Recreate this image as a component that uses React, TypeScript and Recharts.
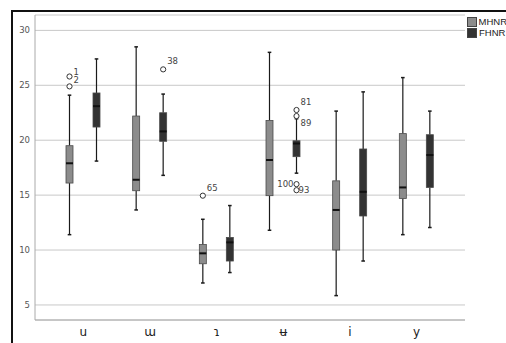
import { ComposedChart, Bar, XAxis, YAxis, CartesianGrid, Legend } from 'recharts';

const categories = ['u', 'ɯ', 'ɿ', 'ʉ', 'i', 'y'];

// MHNR (grey boxes)
const mhnrMin = [11.4, 13.65, 7.0, 11.8, 5.85, 11.4];
const mhnrQ1 = [16.1, 15.4, 8.75, 14.95, 10.0, 14.7];
const mhnrMedian = [17.9, 16.4, 9.7, 18.2, 13.65, 15.7];
const mhnrQ3 = [19.5, 22.2, 10.5, 21.8, 16.3, 20.6];
const mhnrMax = [24.1, 28.5, 12.8, 28.0, 22.65, 25.7];

// FHNR (dark boxes)
const fhnrMin = [18.1, 16.8, 7.95, 17.0, 9.0, 12.05];
const fhnrQ1 = [21.2, 19.9, 9.0, 18.5, 13.1, 15.7];
const fhnrMedian = [23.1, 20.8, 10.7, 19.7, 15.3, 18.65];
const fhnrQ3 = [24.3, 22.5, 11.15, 19.95, 19.2, 20.5];
const fhnrMax = [27.4, 24.2, 14.05, 21.95, 24.4, 22.65];

// outliers: category index, value, case label
const mhnrOutliers = [
  { cat: 0, value: 25.8, label: '1' },
  { cat: 0, value: 24.9, label: '2' },
  { cat: 2, value: 14.95, label: '65' },
];
const fhnrOutliers = [
  { cat: 1, value: 26.45, label: '38' },
  { cat: 3, value: 22.75, label: '81' },
  { cat: 3, value: 22.2, label: '89' },
  { cat: 3, value: 16.0, label: '100' },
  { cat: 3, value: 15.45, label: '93' },
];

const yTicks = [5, 10, 15, 20, 25, 30];

// where each case label sits relative to its circle
const labelPlace: Record<string, { dx: number; dy: number; anchor: string }> = {
  '1': { dx: 4, dy: -2, anchor: 'start' },
  '2': { dx: 4, dy: -3, anchor: 'start' },
  '38': { dx: 4, dy: -5, anchor: 'start' },
  '65': { dx: 4, dy: -5, anchor: 'start' },
  '81': { dx: 4, dy: -5, anchor: 'start' },
  '89': { dx: 4, dy: 10, anchor: 'start' },
  '100': { dx: -3, dy: 3, anchor: 'end' },
  '93': { dx: 2, dy: 3, anchor: 'start' },
};

const rows = categories.map((c, i) => ({
  cat: c,
  m: {
    min: mhnrMin[i], q1: mhnrQ1[i], med: mhnrMedian[i], q3: mhnrQ3[i], max: mhnrMax[i],
    out: mhnrOutliers.filter((o) => o.cat === i),
  },
  f: {
    min: fhnrMin[i], q1: fhnrQ1[i], med: fhnrMedian[i], q3: fhnrQ3[i], max: fhnrMax[i],
    out: fhnrOutliers.filter((o) => o.cat === i),
  },
}));

const FONT = '"DejaVu Sans", sans-serif';

function makeBox(key: 'm' | 'f', fill: string) {
  return (props: any) => {
    const { x, y, width, height, payload } = props;
    const s = payload[key];
    const top = Math.min(y, y + height);
    const bottom = Math.max(y, y + height);
    // whisker bar spans [min, max], so the scale is linear inside it
    const k = (bottom - top) / (s.max - s.min);
    const py = (v: number) => bottom - (v - s.min) * k;
    const cx = x + width / 2;
    return (
      <g>
        <line x1={cx} x2={cx} y1={py(s.max)} y2={py(s.q3)} stroke="#1a1a1a" strokeWidth={1.2} />
        <line x1={cx} x2={cx} y1={py(s.q1)} y2={py(s.min)} stroke="#1a1a1a" strokeWidth={1.2} />
        <line x1={cx - 1.8} x2={cx + 1.8} y1={py(s.max)} y2={py(s.max)} stroke="#1a1a1a" strokeWidth={1.5} />
        <line x1={cx - 1.8} x2={cx + 1.8} y1={py(s.min)} y2={py(s.min)} stroke="#1a1a1a" strokeWidth={1.5} />
        <rect x={x} y={py(s.q3)} width={width} height={py(s.q1) - py(s.q3)} fill={fill} stroke="#4a4a4a" strokeWidth={0.8} />
        <line x1={x} x2={x + width} y1={py(s.med)} y2={py(s.med)} stroke="#111" strokeWidth={2} />
        {s.out.map((o: any) => {
          const p = labelPlace[o.label];
          return (
            <g key={o.label}>
              <circle cx={cx} cy={py(o.value)} r={2.6} fill="#fff" stroke="#333" strokeWidth={1} />
              <text x={cx + p.dx} y={py(o.value) + p.dy} fontSize={8.5} fill="#444" textAnchor={p.anchor} fontFamily={FONT}>
                {o.label}
              </text>
            </g>
          );
        })}
      </g>
    );
  };
}

const legendItems = [
  { name: 'MHNR', color: '#8c8c8c' },
  { name: 'FHNR', color: '#333333' },
];

const renderLegend = () => (
  <div style={{ fontFamily: '"Liberation Sans", sans-serif', fontSize: 9.5, color: '#222', lineHeight: '11px' }}>
    {legendItems.map((it) => (
      <div key={it.name} style={{ display: 'flex', alignItems: 'center', height: 11 }}>
        <span style={{ display: 'inline-block', width: 8, height: 8, background: it.color, border: '1px solid #444', marginRight: 2 }} />
        <span>{it.name}</span>
      </div>
    ))}
  </div>
);

export default function App() {
  return (
    <div style={{ position: 'absolute', left: 0, top: 0, width: 506, height: 343, overflow: 'hidden', background: '#fff' }}>
      <div style={{ position: 'absolute', left: 11, top: 10, width: 600, height: 400, borderTop: '2px solid #111', borderLeft: '2px solid #111' }} />
      <div style={{ position: 'absolute', left: 0, top: 0 }}>
        <ComposedChart width={506} height={343} data={rows} margin={{ top: 15, right: 41, bottom: 0, left: 0 }} barSize={7} barGap={20}>
          <CartesianGrid vertical={false} stroke="#c8c8c8" />
          <XAxis
            dataKey="cat"
            height={23}
            padding={{ left: 15, right: 15 }}
            axisLine={{ stroke: '#aaa' }}
            tickLine={false}
            tickSize={0}
            tickMargin={7}
            tick={{ fontSize: 12, fill: '#222', fontFamily: FONT }}
          />
          <YAxis
            width={35}
            domain={[3.63, 31.4]}
            ticks={yTicks}
            allowDataOverflow
            axisLine={{ stroke: '#aaa' }}
            tickLine={false}
            tickSize={0}
            tickMargin={5}
            tick={{ fontSize: 8.5, fill: '#555', fontFamily: FONT }}
          />
          <Legend
            layout="vertical"
            align="center"
            verticalAlign="middle"
            content={renderLegend}
            wrapperStyle={{ left: 467, top: 16, width: 40 }}
          />
          <Bar dataKey={(r: any) => [r.m.min, r.m.max]} name="MHNR" fill="#8c8c8c" shape={makeBox('m', '#8c8c8c')} isAnimationActive={false} />
          <Bar dataKey={(r: any) => [r.f.min, r.f.max]} name="FHNR" fill="#333333" shape={makeBox('f', '#333333')} isAnimationActive={false} />
        </ComposedChart>
      </div>
    </div>
  );
}
